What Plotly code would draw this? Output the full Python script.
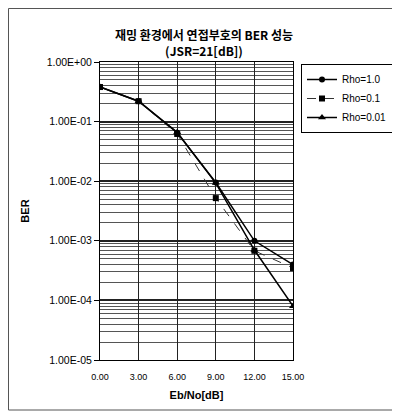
import plotly.graph_objects as go

ebno = [0, 3, 6, 9, 12, 15]
rho_1_0 = [0.38, 0.22, 0.065, 0.0095, 0.00100, 0.00040]
rho_0_1 = [0.38, 0.22, 0.062, 0.0052, 0.00068, 0.00035]
rho_0_01 = [0.38, 0.22, 0.066, 0.0093, 0.00070, 0.000080]
x_ticks = [0, 3, 6, 9, 12, 15]
x_tick_labels = ["0.00", "3.00", "6.00", "9.00", "12.00", "15.00"]
y_ticks = [1, 0.1, 0.01, 0.001, 0.0001, 0.00001]
y_tick_labels = ["1.00E+00", "1.00E-01", "1.00E-02", "1.00E-03", "1.00E-04", "1.00E-05"]
series_names = ["Rho=1.0", "Rho=0.1", "Rho=0.01"]

# page body has an 8px margin; figure sized to fit inside the 400x420 window
W, H = 392, 412
L, R, T, B = 92, 107, 54, 60
pw, ph = W - L - R, H - T - B

fig = go.Figure()
fig.add_trace(go.Scatter(x=ebno, y=rho_1_0, name=series_names[0], mode="lines+markers",
                         line=dict(color="black", width=1.5),
                         marker=dict(symbol="circle", size=6, color="black")))
fig.add_trace(go.Scatter(x=ebno, y=rho_0_1, name=series_names[1], mode="lines+markers",
                         line=dict(color="#333", width=1, dash="dash"),
                         marker=dict(symbol="square", size=6, color="black")))
fig.add_trace(go.Scatter(x=ebno, y=rho_0_01, name=series_names[2], mode="lines+markers",
                         line=dict(color="black", width=1.5),
                         marker=dict(symbol="triangle-up", size=7, color="black")))

fig.update_layout(
    width=W, height=H,
    margin=dict(l=L, r=R, t=T, b=B, autoexpand=False),
    paper_bgcolor="white", plot_bgcolor="white",
    font=dict(family="Liberation Sans, Arial, sans-serif", color="black", size=9),
    title=dict(text="<b>재밍 환경에서 연접부호의 BER 성능</b><br><b>(JSR=21[dB])</b>",
               x=0.5, xanchor="center", y=(H - 32) / H, yanchor="middle",
               font=dict(size=12, family="Noto Sans CJK KR, Liberation Sans, sans-serif")),
    legend=dict(x=(301 - 8 - L) / pw, y=(T + ph - (64 - 8)) / ph, xanchor="left", yanchor="top",
                bgcolor="white", bordercolor="black", borderwidth=1,
                font=dict(size=10), tracegroupgap=0, itemwidth=30),
    xaxis=dict(range=[0, 15], tickvals=x_ticks, ticktext=x_tick_labels,
               showgrid=True, gridcolor="#222", gridwidth=1,
               showline=True, linecolor="black", mirror=True, zeroline=False,
               tickfont=dict(size=9), automargin=False, ticklabelstandoff=8,
               title=dict(text="<b>Eb/No[dB]</b>", font=dict(size=11), standoff=10)),
    yaxis=dict(type="log", range=[-5, 0], tickvals=y_ticks, ticktext=y_tick_labels,
               showgrid=True, gridcolor="#222", gridwidth=1.5,
               ticks="outside", ticklen=5, tickcolor="black",
               minor=dict(showgrid=True, gridcolor="#555", gridwidth=1, dtick="D1"),
               showline=True, linecolor="black", mirror=True, zeroline=False,
               tickfont=dict(size=10.5), automargin=False,
               title=dict(text="<b>BER</b>", font=dict(size=11), standoff=14)),
)

fig.add_shape(type="rect", xref="paper", yref="paper",
              x0=(0.5 - L) / pw, x1=(389 - L) / pw,
              y0=(T + ph - 402) / ph, y1=(T + ph - 0.5) / ph,
              line=dict(color="#555", width=1), layer="below")

fig.write_html("out.html")
